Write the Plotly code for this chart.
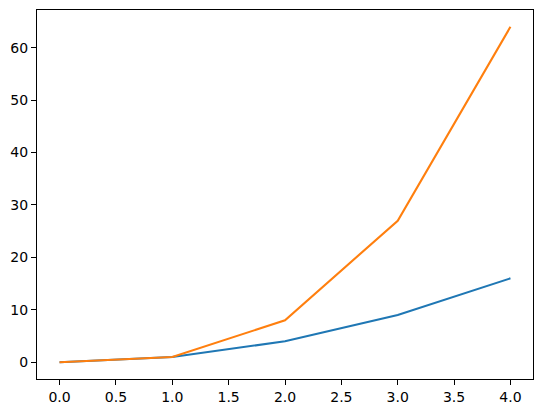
import plotly.graph_objects as go

x_vals = [0, 1, 2, 3, 4]
y_squares = [0, 1, 4, 9, 16]
y_cubes = [0, 1, 8, 27, 64]

fig = go.Figure()
fig.add_trace(go.Scatter(x=x_vals, y=y_squares, mode="lines",
                         line=dict(color="#1f77b4", width=2.1)))
fig.add_trace(go.Scatter(x=x_vals, y=y_cubes, mode="lines",
                         line=dict(color="#ff7f0e", width=2.1)))

axis_common = dict(showline=True, mirror=True, linecolor="black", linewidth=1,
                   ticks="outside", ticklen=5, tickwidth=1, tickcolor="black",
                   showgrid=False, zeroline=False, automargin=False,
                   tickfont=dict(family="DejaVu Sans", size=14, color="black"))

fig.update_layout(
    width=543, height=413,
    margin=dict(l=37, r=10, t=10, b=34, autoexpand=False),
    paper_bgcolor="white", plot_bgcolor="white",
    showlegend=False,
    xaxis=dict(range=[-0.2, 4.2], tickmode="linear", tick0=0, dtick=0.5,
               tickformat=".1f", **axis_common),
    yaxis=dict(range=[-3.2, 67.2], tickmode="linear", tick0=0, dtick=10,
               **axis_common),
)

fig.write_html("out.html",
               config={"displayModeBar": False},
               post_script="document.body.style.margin='0';document.body.style.padding='0';")
